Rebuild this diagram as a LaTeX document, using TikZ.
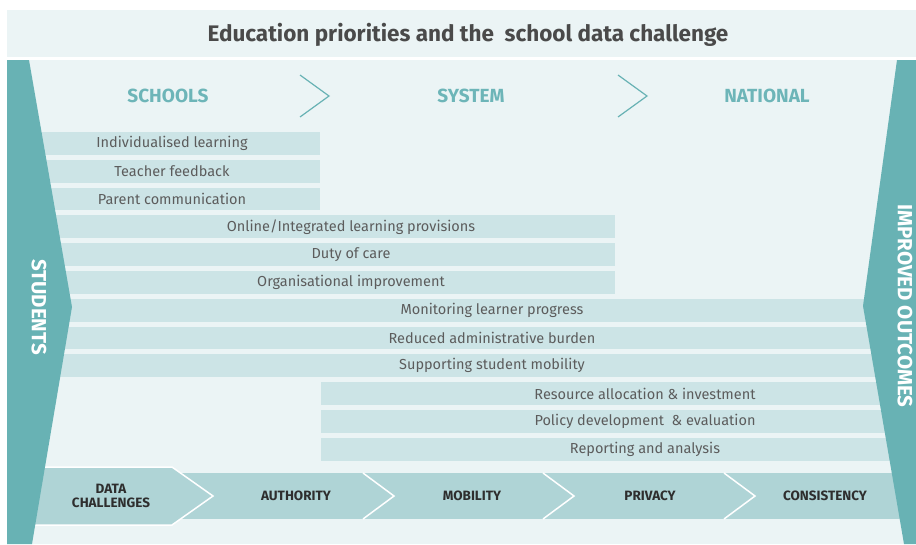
\documentclass[tikz,border=0pt]{standalone}
\usepackage{fontspec}
\setmainfont{Fira Sans}
\usepackage{xcolor}
\definecolor{panelbg}{HTML}{EBF4F5}
\definecolor{barfill}{HTML}{CCE4E6}
\definecolor{bandfill}{HTML}{AFD4D6}
\definecolor{tealside}{HTML}{68B2B4}
\definecolor{tealtext}{HTML}{6DB5B8}
\definecolor{titletext}{HTML}{4A4A4A}
\definecolor{rowtext}{HTML}{5C5C5C}
\definecolor{bandtext}{HTML}{2E2E2E}

\tikzset{
	titlelabel/.style={text=titletext, font=\fontsize{22.5}{26}\selectfont\bfseries, inner sep=0pt},
	levellabel/.style={text=tealtext, font=\fontsize{19}{22}\selectfont\bfseries, inner sep=0pt},
	rowlabel/.style={text=rowtext, font=\fontsize{14.5}{17}\selectfont, inner sep=0pt},
	bandlabel/.style={text=bandtext, font=\fontsize{13.5}{14}\selectfont\bfseries, inner sep=0pt, align=center},
	sidelabel/.style={text=white, font=\fontsize{20.5}{24}\selectfont\bfseries, inner sep=0pt, rotate=-90}
}

\begin{document}
\begin{tikzpicture}[x=1pt,y=-1pt]
		\useasboundingbox (0,0) rectangle (916,544);
		\draw [color=white,fill=white] (0,0) rectangle (916,544);
		\fill [panelbg] (7,10) rectangle (916,57);
		\fill [panelbg] (7,60) rectangle (916,544);
		\node [titlelabel] (title) at (468,35) {Education priorities and the\ \ school data challenge};
		%
		% rows
		\foreach \i in {0,1,2}
			\fill [barfill] (10,132+27.8*\i) rectangle (320,154.8+27.8*\i);
		\foreach \i in {3,4,5}
			\fill [barfill] (10,132+27.8*\i) rectangle (615,154.8+27.8*\i);
		\foreach \i in {6,7,8}
			\fill [barfill] (10,132+27.8*\i) rectangle (900,154.8+27.8*\i);
		\foreach \i in {9,10,11}
			\fill [barfill] (321,132+27.8*\i) rectangle (900,154.8+27.8*\i);
		\node [rowlabel] (individual) at (172,143.4) {Individualised learning};
		\node [rowlabel] (feedback) at (172,171.2) {Teacher feedback};
		\node [rowlabel] (parent) at (172,199) {Parent communication};
		\node [rowlabel] (online) at (351,226.8) {Online/Integrated learning provisions};
		\node [rowlabel] (duty) at (351,254.6) {Duty of care};
		\node [rowlabel] (organisation) at (351,282.4) {Organisational improvement};
		\node [rowlabel] (monitoring) at (492,310.2) {Monitoring learner progress};
		\node [rowlabel] (burden) at (492,338) {Reduced administrative burden};
		\node [rowlabel] (mobility) at (492,365.8) {Supporting student mobility};
		\node [rowlabel] (resource) at (645,393.6) {Resource allocation \& investment};
		\node [rowlabel] (policy) at (645,421.4) {Policy development\ \ \& evaluation};
		\node [rowlabel] (reporting) at (645,449.2) {Reporting and analysis};
		%
		% data challenges band
		\fill [bandfill] (180,473) rectangle (900,519);
		\draw [fill=bandfill,draw=white,line width=1.5pt] (10,467) -- (172,467) -- (213,496) -- (172,525) -- (10,525) -- cycle;
		\foreach \x in {363,543,724}
			\draw [white,line width=1.5pt] (\x,473) -- (\x+31,496) -- (\x,519);
		\node [bandlabel] (data) at (111,496) {DATA\\CHALLENGES};
		\node [bandlabel] (authority) at (296,496) {AUTHORITY};
		\node [bandlabel] (mobilityband) at (472,496) {MOBILITY};
		\node [bandlabel] (privacy) at (650,496) {PRIVACY};
		\node [bandlabel] (consistency) at (825,496) {CONSISTENCY};
		%
		% side wedges
		\fill [tealside] (7,60) -- (29,60) -- (72,307) -- (32,544) -- (7,544) -- cycle;
		\fill [tealside] (897,60) -- (916,60) -- (916,544) -- (904,544) -- (863,306) -- cycle;
		\node [sidelabel] (students) at (39,307) {STUDENTS};
		\node [sidelabel] (outcomes) at (905,306) {IMPROVED OUTCOMES};
		%
		% levels
		\node [levellabel] (schools) at (168,96) {SCHOOLS};
		\node [levellabel] (system) at (471,96) {SYSTEM};
		\node [levellabel] (national) at (767,96) {NATIONAL};
		\foreach \x in {300,618}
			\draw [tealside,line width=1.2pt] (\x,75) -- (\x+29,96) -- (\x,117);
	\end{tikzpicture}
\end{document}
